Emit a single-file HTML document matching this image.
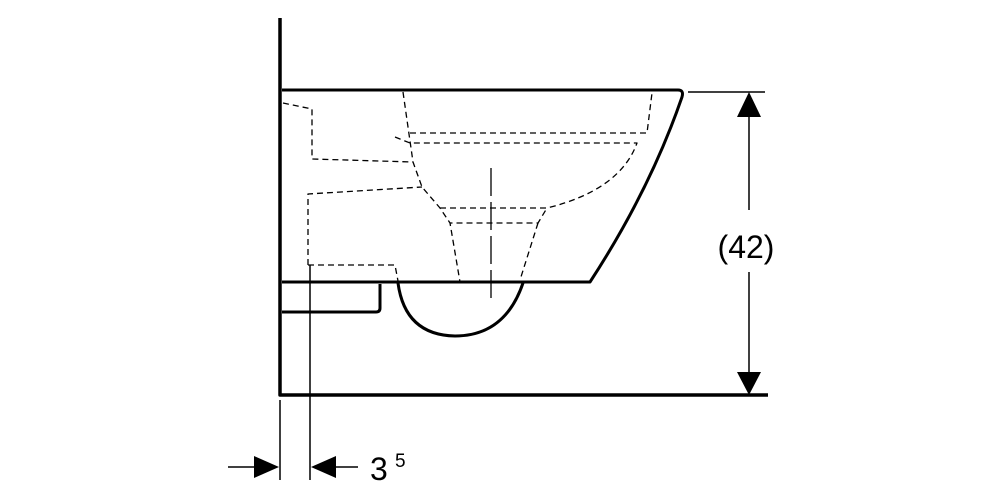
<!DOCTYPE html>
<html><head><meta charset="utf-8"><style>
html,body{margin:0;padding:0;background:#fff;}
svg{display:block;}
text{font-family:"Liberation Sans",Arial,sans-serif;fill:#000;}
</style></head><body>
<svg width="1000" height="500" viewBox="0 0 1000 500" xmlns="http://www.w3.org/2000/svg">
<g fill="none" stroke="#000" stroke-linejoin="round">
<path d="M280 18 V395 H768" stroke-width="3.5"/>
<path d="M282 90 H678 Q684 90 682 97 Q650 190 590 282 H282" stroke-width="3"/>
<path d="M282 312 H376 Q380 312 380 308 V284" stroke-width="3"/>
<path d="M398 283 Q405 335 455 336 Q505 336 523 283" stroke-width="3"/>
<g stroke-width="1.3" stroke-dasharray="6,4">
<path d="M283 103 L312 109 L312 159 L413 162"/>
<path d="M403 92 L413 162 L422 187 L440 208 L450 223 L460 282"/>
<path d="M308 265 L308 194 L422 187"/>
<path d="M308 265 L395 265 L398 281"/>
<path d="M410 133 H647 L652 93"/>
<path d="M395 137 L410 143 H637 Q620 190 547 208"/>
<path d="M440 208 H547 L538 223 H450"/>
<path d="M538 223 L520 280"/>
</g>
<path d="M491 168 V302" stroke-width="1.3" stroke-dasharray="28,6"/>
<path d="M310 265 V480" stroke-width="1.5"/>
<path d="M280 400 V480" stroke-width="1.5"/>
<path d="M228 467 H262" stroke-width="1.5"/>
<path d="M326 467 H358" stroke-width="1.5"/>
<path d="M688 92 H765" stroke-width="1.5"/>
<path d="M749 115 V210 M749 272 V375" stroke-width="1.5"/>
</g>
<g fill="#000">
<polygon points="279,467 254,456 254,478"/>
<polygon points="311,467 336,456 336,478"/>
<polygon points="749,92 737,117 761,117"/>
<polygon points="749,395 737,372 761,372"/>
</g>
<text x="746" y="258" font-size="32" text-anchor="middle">(42)</text>
<text x="370" y="480" font-size="32">3</text>
<text x="395" y="467" font-size="19">5</text>
</svg>
</body></html>
